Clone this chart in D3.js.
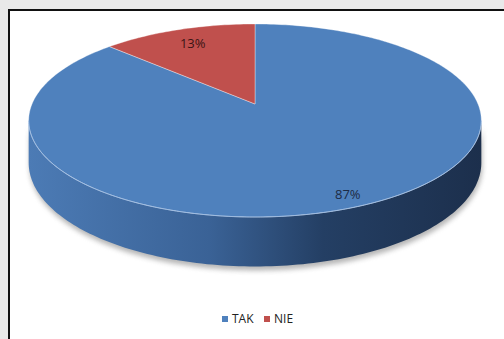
<!DOCTYPE html>
<html>
<head>
<meta charset="utf-8">
<script src="https://cdn.jsdelivr.net/npm/d3@7"></script>
<style>
  body { margin: 0; background: #e9e9e9; }
  svg { display: block; }
</style>
</head>
<body>
<div id="chart"></div>
<script>
// ************ Data ************
var categories = ['TAK', 'NIE'];
var values = [87, 13];
var labels = ['87%', '13%'];
var colors = ['#4f81bd', '#c0504d'];

// ************ Setup ************
var width = 504, height = 339;
var svg = d3.select('#chart').append('svg')
            .attr('width', width)
            .attr('height', height);

// frame
svg.append('rect')
   .attr('x', 9).attr('y', 10)
   .attr('width', 520).attr('height', 360)
   .style('fill', '#ffffff')
   .style('stroke', '#111')
   .style('stroke-width', 2);

var defs = svg.append('defs');
var grad = defs.append('linearGradient')
               .attr('id', 'sideGrad')
               .attr('x1', '0%').attr('x2', '100%')
               .attr('y1', '0%').attr('y2', '0%');
grad.append('stop').attr('offset', '0%').attr('stop-color', '#4c7bb5');
grad.append('stop').attr('offset', '40%').attr('stop-color', '#3a6296');
grad.append('stop').attr('offset', '65%').attr('stop-color', '#243f64');
grad.append('stop').attr('offset', '100%').attr('stop-color', '#1c2f4c');

defs.append('filter').attr('id', 'blur')
    .attr('x', '-10%').attr('y', '-10%').attr('width', '120%').attr('height', '130%')
    .append('feGaussianBlur').attr('stdDeviation', 2.5);

// ************ Projection ************
var cx = 255, cy = 104;
var A = 223, B = 93.7, k = 0.171, D = 41;

function proj(angle, r, drop) {
  // angle clockwise from 12 o'clock
  var u = Math.sin(angle) * r, v = -Math.cos(angle) * r;
  var w = 1 - k * v;
  return [cx + A * u / w, cy + B * v / w + (drop ? D / w : 0)];
}

function arcPoints(a0, a1, r, drop) {
  var n = Math.max(2, Math.ceil(Math.abs(a1 - a0) / 0.02));
  return d3.range(n + 1).map(function(i) {
    return proj(a0 + (a1 - a0) * i / n, r, drop);
  });
}

var line = d3.line();

var pie = d3.pie().sort(null).value(function(d) { return d; });
var slices = pie(values);

// ************ Side wall ************
var sil = Math.PI / 2 + Math.asin(k);     // silhouette angle right side
var sideTop = arcPoints(sil, 2 * Math.PI - sil, 1, false);
var sideBottom = arcPoints(2 * Math.PI - sil, sil, 1, true);
var sidePath = line(sideTop.concat(sideBottom)) + 'Z';

svg.append('path')
   .attr('d', sidePath)
   .attr('transform', 'translate(1,4)')
   .style('fill', '#7a7a7a')
   .style('opacity', 0.55)
   .attr('filter', 'url(#blur)');

svg.append('path')
   .attr('d', sidePath)
   .style('fill', 'url(#sideGrad)');

// ************ Top faces ************
svg.selectAll('path.slice')
   .data(slices)
   .enter().append('path')
   .attr('class', 'slice')
   .attr('d', function(d) {
     var pts = [proj(0, 0, false)].concat(arcPoints(d.startAngle, d.endAngle, 1, false));
     return line(pts) + 'Z';
   })
   .style('fill', function(d, i) { return colors[i]; })
   .style('stroke', 'rgba(255,255,255,0.35)')
   .style('stroke-width', 1)
   .style('stroke-linejoin', 'round');

// rim highlight on the front edge
svg.append('path')
   .attr('d', line(arcPoints(sil, 2 * Math.PI - sil, 1, false)))
   .style('fill', 'none')
   .style('stroke', '#9dbbe2')
   .style('stroke-width', 1)
   .style('opacity', 0.8);

// ************ Labels ************
var labelR = [0.9, 0.79];
svg.selectAll('text.lbl')
   .data(slices)
   .enter().append('text')
   .attr('class', 'lbl')
   .attr('x', function(d, i) { return proj((d.startAngle + d.endAngle) / 2, labelR[i], false)[0]; })
   .attr('y', function(d, i) { return proj((d.startAngle + d.endAngle) / 2, labelR[i], false)[1]; })
   .attr('dy', '0.35em')
   .attr('text-anchor', 'middle')
   .style('font-family', 'Open Sans, sans-serif')
   .style('font-size', '13px')
   .style('fill', function(d, i) { return i === 0 ? '#1d2b44' : '#3a1414'; })
   .text(function(d, i) { return labels[i]; });

// ************ Legend ************
var legendX = d3.scaleOrdinal().domain(categories).range([222, 264]);
var legend = svg.selectAll('g.legend')
   .data(categories)
   .enter().append('g')
   .attr('class', 'legend')
   .attr('transform', function(d) { return 'translate(' + legendX(d) + ',319)'; });

legend.append('rect')
   .attr('x', 0).attr('y', -3)
   .attr('width', 6).attr('height', 6)
   .style('fill', function(d, i) { return colors[i]; });

legend.append('text')
   .attr('x', 10).attr('y', 0)
   .attr('dy', '0.35em')
   .style('font-family', 'Open Sans, sans-serif')
   .style('font-size', '12px')
   .style('fill', '#222')
   .text(function(d) { return d; });
</script>
</body>
</html>
